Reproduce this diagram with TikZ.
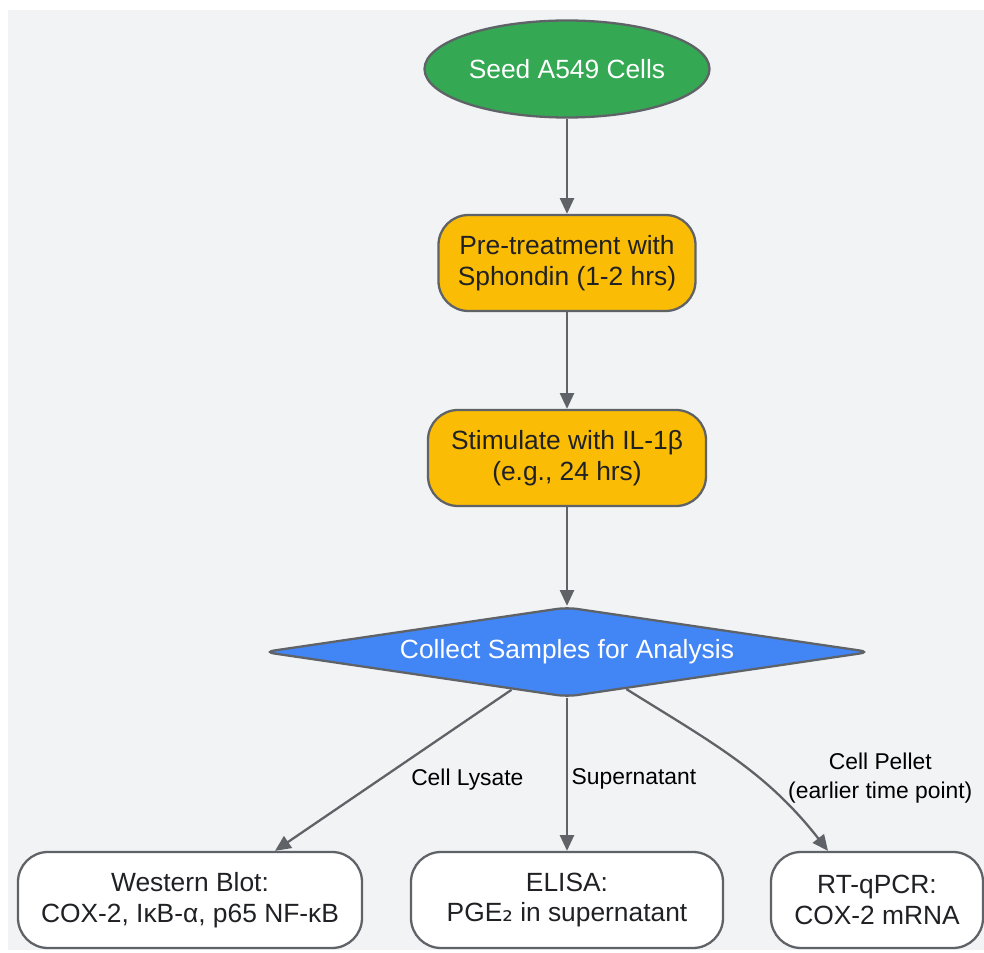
\documentclass[tikz,border=0pt]{standalone}
\usepackage{fontspec}
\setmainfont{Liberation Sans}
\newfontfamily\dvsans{DejaVu Sans}
\usetikzlibrary{arrows.meta, shapes.geometric}
\definecolor{gbg}{HTML}{F1F3F4}
\definecolor{ggray}{HTML}{5F6368}
\definecolor{gdark}{HTML}{202124}
\definecolor{ggreen}{HTML}{34A853}
\definecolor{gyellow}{HTML}{FBBC05}
\definecolor{gblue}{HTML}{4285F4}

\begin{document}
\begin{tikzpicture}[
  every node/.style={font=\fontsize{15}{17.6}\selectfont},
  stepbox/.style={rectangle, rounded corners=0.6cm, draw=ggray, line width=1.3pt, fill=gyellow, text=gdark, minimum height=1.92cm, align=center},
  resultbox/.style={stepbox, fill=white},
  flow/.style={draw=ggray, line width=1.3pt, -{Triangle[length=9pt, width=8pt]}},
  lbl/.style={font=\fontsize{13}{16.4}\selectfont, text=black, inner sep=2pt, align=center},
]
% canvas
\fill[gbg] (0.16,-0.2) rectangle (19.68,-19.0);
\useasboundingbox (0,0) rectangle (19.68,-19.06);

% main steps
\node[ellipse, draw=ggray, line width=1.3pt, fill=ggreen, text=white, minimum width=5.7cm, minimum height=1.94cm, inner sep=0] (seed) at (11.34,-1.38) {Seed A549 Cells};
\node[stepbox, minimum width=5.14cm] (pre) at (11.34,-5.26) {Pre-treatment with\\Sphondin (1-2 hrs)};
\node[stepbox, minimum width=5.56cm] (stim) at (11.34,-9.16) {Stimulate with IL-1β\\(e.g., 24 hrs)};
\node[diamond, aspect=6.7, draw=ggray, line width=1.3pt, fill=gblue, text=white, rounded corners=6pt, minimum width=12.14cm, minimum height=1.8cm, inner sep=0] (collect) at (11.34,-13.04) {Collect Samples for Analysis};

% read-outs
\node[resultbox, minimum width=6.88cm] (wb) at (3.80,-18.0) {Western Blot:\\COX-2, IκB-α, p65 NF-κB};
\node[resultbox, minimum width=6.24cm] (elisa) at (11.34,-18.0) {ELISA:\\PGE{\dvsans ₂} in supernatant};
\node[resultbox, minimum width=4.24cm] (rt) at (17.54,-18.0) {RT-qPCR:\\COX-2 mRNA};

% connectors
\draw[flow] (seed) -- (pre);
\draw[flow] (pre) -- (stim);
\draw[flow] (stim) -- (collect);
\draw[flow] (collect) -- ([xshift=1.7cm]wb.north) node[lbl, pos=0.56, right=0.55cm] {Cell Lysate};
\draw[flow] (collect) -- (elisa) node[lbl, pos=0.53, right] {Supernatant};
\draw[flow] (collect) to[out=-32, in=128] node[lbl, pos=0.62, right=0.5cm] {Cell Pellet\\(earlier time point)} ([xshift=-0.98cm]rt.north);

\end{tikzpicture}
\end{document}
